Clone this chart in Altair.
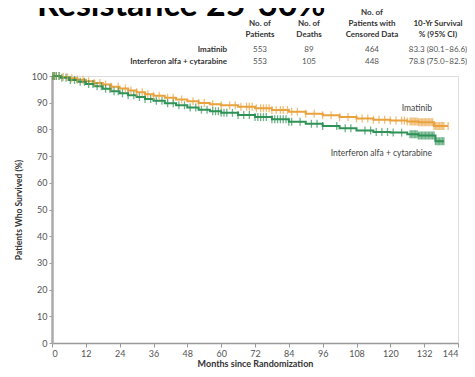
import altair as alt
import pandas as pd

# ---------------- data ----------------
groups = ["Imatinib", "Interferon alfa + cytarabine"]
colors = ["#EAA23E", "#2F9257"]

imat_months = [0, 3, 6, 9, 12, 15, 18, 21, 24, 27, 30, 33, 36, 40, 44, 48, 52, 56, 60,
               66, 72, 78, 84, 90, 96, 102, 108, 114, 120, 126, 130, 135.5, 140.5]
imat_surv = [100, 99.6, 99.2, 98.6, 98.0, 97.4, 96.8, 96.0, 95.3, 94.6, 93.9, 93.2, 92.6,
             91.9, 91.2, 90.5, 89.9, 89.4, 89.0, 88.5, 87.9, 87.3, 86.6, 85.9, 85.3, 84.6,
             84.1, 83.6, 83.3, 83.0, 82.7, 81.3, 81.3]

ifn_months = [0, 3, 6, 9, 12, 15, 18, 21, 24, 27, 30, 33, 36, 40, 44, 48, 52, 56, 60,
              66, 72, 78, 84, 90, 96, 102, 108, 114, 120, 126, 130, 136, 139]
ifn_surv = [100, 99.3, 98.5, 97.8, 97.0, 96.2, 95.2, 94.3, 93.5, 92.8, 92.1, 91.4, 90.7,
            89.8, 89.0, 88.2, 87.4, 86.8, 86.2, 85.4, 84.6, 83.8, 82.9, 82.1, 81.3, 80.4,
            79.6, 79.0, 78.8, 78.2, 77.7, 75.6, 75.6]

imat_censored = [0.3, 0.8, 1.5, 2.5, 4, 5.5, 7, 9, 11, 13, 15, 17, 19, 21, 23.5, 26, 28, 30,
                 32, 34, 36, 38, 41, 43, 46, 50, 52, 54, 57, 60, 63, 65, 67, 69, 70, 71, 72.5,
                 74, 75, 76, 77, 78, 79.5, 81, 82, 83.5, 85, 87, 90, 93, 96, 99, 102, 105,
                 108, 110, 112, 114, 116, 118, 120, 122, 124, 125, 126, 127, 127.5, 128,
                 128.5, 129, 129.5, 130, 130.5, 131, 131.5, 132, 132.5, 133, 133.5, 134,
                 134.5, 135, 135.5, 136, 136.5, 137, 137.5, 138, 138.5, 139, 140.5]
ifn_censored = [0.3, 0.8, 1.5, 2.5, 3.5, 5, 6.5, 8, 10, 11.5, 13, 14.5, 16, 17.5, 19, 20.5,
                22, 23.5, 25, 27, 29, 31, 33, 35, 37, 39, 41, 43, 45, 47, 49, 51, 53, 55, 57,
                58, 59, 60, 61, 62, 64, 66, 68, 70, 72, 73, 74, 75, 76, 78, 79, 80, 81, 82,
                83, 84, 85, 88, 92, 94, 96, 101, 104, 106, 111, 113, 115, 117, 119, 121, 124,
                127, 127.5, 128, 128.5, 129, 129.5, 130, 130.5, 131, 131.5, 132, 132.5, 133,
                133.5, 134, 134.5, 135, 135.5, 136, 136.5, 137, 137.5, 138, 138.5, 139]

x_ticks = [0, 12, 24, 36, 48, 60, 72, 84, 96, 108, 120, 132, 144]
y_ticks = [0, 10, 20, 30, 40, 50, 60, 70, 80, 90, 100]

n_patients = ["553", "553"]
n_deaths = ["89", "105"]
n_censored = ["464", "448"]
surv10 = ["83.3 (80.1–86.6)", "78.8 (75.0–82.5)"]
col_headers = [["No. of", "Patients"], ["No. of", "Deaths"],
               ["No. of", "Patients with", "Censored Data"],
               ["10-Yr Survival", "% (95% CI)"]]
title_text = "Resistance 25-30%"


def step_value(times, vals, t):
    v = vals[0]
    for ti, vi in zip(times, vals):
        if ti <= t:
            v = vi
        else:
            break
    return v


lines_rows = []
for g, ts, vs in [(groups[0], imat_months, imat_surv), (groups[1], ifn_months, ifn_surv)]:
    for t, v in zip(ts, vs):
        lines_rows.append({"group": g, "month": t, "surv": v})
lines_df = pd.DataFrame(lines_rows)

cens_rows = []
for g, cs, ts, vs in [(groups[0], imat_censored, imat_months, imat_surv),
                      (groups[1], ifn_censored, ifn_months, ifn_surv)]:
    for c in cs:
        cens_rows.append({"group": g, "month": c, "surv": step_value(ts, vs, c)})
cens_df = pd.DataFrame(cens_rows)

W, H = 406, 267
FONT = "Lato"

color_scale = alt.Scale(domain=groups, range=colors)
x_scale = alt.Scale(domain=[0, 144], nice=False)
y_scale = alt.Scale(domain=[0, 100], nice=False)

x_axis = alt.Axis(values=x_ticks, title="Months since Randomization", labelFontSize=9,
                  labelColor="#555555", labelFont=FONT, tickColor="#999999", tickSize=4,
                  domainColor="#999999", domainWidth=1.5, labelPadding=2, labelOverlap=False,
                  titleFont=FONT, titleFontSize=9, titleFontWeight=700, titleColor="#333333",
                  titlePadding=1, grid=False)
y_axis = alt.Axis(values=y_ticks, title="Patients Who Survived (%)", labelFontSize=9,
                  labelColor="#555555", labelFont=FONT, tickColor="#999999", tickSize=3,
                  domainColor="#aaaaaa", domainWidth=2.5, labelPadding=2, labelOverlap=False,
                  titleFont=FONT, titleFontSize=8.5, titleFontWeight=700, titleColor="#333333",
                  titlePadding=8, grid=False)

lines = alt.Chart(lines_df).mark_line(interpolate="step-after", strokeWidth=2).encode(
    x=alt.X("month:Q", scale=x_scale, axis=x_axis),
    y=alt.Y("surv:Q", scale=y_scale, axis=y_axis),
    color=alt.Color("group:N", scale=color_scale, legend=None),
    detail="group:N",
)

ticks = alt.Chart(cens_df).mark_tick(orient="vertical", size=8, thickness=1.3).encode(
    x=alt.X("month:Q", scale=x_scale, axis=x_axis),
    y=alt.Y("surv:Q", scale=y_scale, axis=y_axis),
    color=alt.Color("group:N", scale=color_scale, legend=None),
)


def txt(text, x, y, size=8, weight=400, color="#444444", align="center",
        baseline="middle", font=FONT):
    return alt.Chart(pd.DataFrame({"t": [text]})).mark_text(
        fontSize=size, fontWeight=weight, color=color, align=align,
        baseline=baseline, font=font,
    ).encode(text="t:N", x=alt.value(x), y=alt.value(y))


texts = []
# Title (cropped at the top in the original)
texts.append(txt(title_text, -15, -60, size=34, weight=700, color="#000000",
                 align="left", baseline="alphabetic"))

# Table headers
col_x = [208, 257, 320, 386]
for cx, lines_h in zip(col_x, col_headers):
    n = len(lines_h)
    for i, line in enumerate(lines_h):
        yy = -41 - 11 * (n - 1 - i)
        texts.append(txt(line, cx, yy, size=8, weight=700, color="#333333"))

row_y = [-26, -14]
for i, g in enumerate(groups):
    texts.append(txt(g, 175, row_y[i], size=8, weight=700, color="#333333", align="right"))
    for cx, val in zip(col_x, [n_patients[i], n_deaths[i], n_censored[i], surv10[i]]):
        texts.append(txt(val, cx, row_y[i], size=8, weight=400, color="#555555"))

# Curve labels
texts.append(txt(groups[0], 380, 32, size=8.5, weight=400, color="#444444", align="right"))
texts.append(txt(groups[1], 380, 77, size=8.5, weight=400, color="#444444", align="right"))

chart = alt.layer(lines, ticks, *texts).properties(
    width=W, height=H,
    autosize=alt.AutoSizeParams(type="none"),
    padding={"left": 44, "top": 68, "right": 9, "bottom": 26},
).configure_axis(labelOverlap=False).configure_view(stroke=None).configure(background="white")

chart.save("out.html", embed_options={"renderer": "svg", "actions": False})
